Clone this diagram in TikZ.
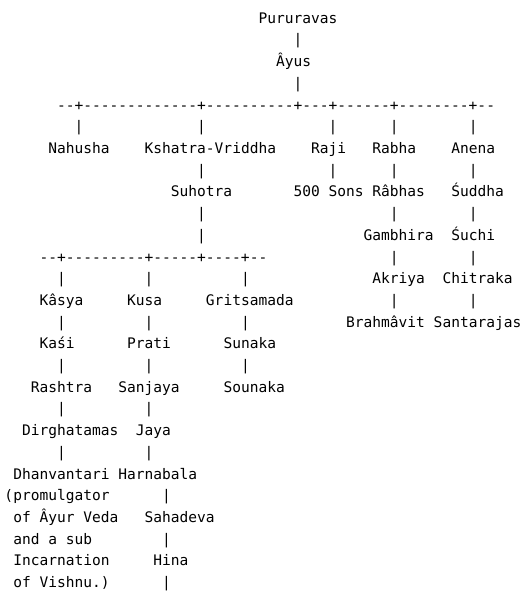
\documentclass[tikz,border=0pt]{standalone}
\usepackage{fontspec}
\setmonofont{DejaVu Sans Mono}
\tikzset{
  txt/.style={inner sep=0pt, outer sep=0pt, anchor=base west, font=\ttfamily\fontsize{14.55pt}{21.7pt}\selectfont, text=black},
}
% \T{name}{col}{row}{text}
\newcommand\T[4]{\node[txt] (#1) at ({4.5+#2*8.76},{-23.3-#3*21.7}) {#4};}
\begin{document}
\begin{tikzpicture}[x=1pt,y=1pt]
\useasboundingbox (0,0) rectangle (523,-594);
\T{pururavas}{29}{0}{Pururavas}
\T{b1}{33}{1}{|}
\T{ayus}{31}{2}{Âyus}
\T{b3}{33}{3}{|}
\T{dash1}{6}{4}{--+-------------+----------+---+------+--------+--}
\T{b5a}{8}{5}{|}\T{b5b}{22}{5}{|}\T{b5c}{37}{5}{|}\T{b5d}{44}{5}{|}\T{b5e}{53}{5}{|}
\T{nahusha}{5}{6}{Nahusha}
\T{kshatra}{16}{6}{Kshatra-Vriddha}
\T{raji}{35}{6}{Raji}
\T{rabha}{42}{6}{Rabha}
\T{anena}{51}{6}{Anena}
\T{b7b}{22}{7}{|}\T{b7c}{37}{7}{|}\T{b7d}{44}{7}{|}\T{b7e}{53}{7}{|}
\T{suhotra}{19}{8}{Suhotra}
\T{sons}{33}{8}{500 Sons}
\T{rabhas}{42}{8}{Râbhas}
\T{suddha}{51}{8}{Śuddha}
\T{b9b}{22}{9}{|}\T{b9d}{44}{9}{|}\T{b9e}{53}{9}{|}
\T{b10b}{22}{10}{|}
\T{gambhira}{41}{10}{Gambhira}
\T{suchi}{51}{10}{Śuchi}
\T{dash2}{4}{11}{--+---------+-----+----+--}
\T{b11d}{44}{11}{|}\T{b11e}{53}{11}{|}
\T{b12a}{6}{12}{|}\T{b12b}{16}{12}{|}\T{b12c}{27}{12}{|}
\T{akriya}{42}{12}{Akriya}
\T{chitraka}{50}{12}{Chitraka}
\T{kasya}{4}{13}{Kâsya}
\T{kusa}{14}{13}{Kusa}
\T{gritsamada}{23}{13}{Gritsamada}
\T{b13d}{44}{13}{|}\T{b13e}{53}{13}{|}
\T{b14a}{6}{14}{|}\T{b14b}{16}{14}{|}\T{b14c}{27}{14}{|}
\T{brahmavit}{39}{14}{Brahmâvit}
\T{santarajas}{49}{14}{Santarajas}
\T{kasi}{4}{15}{Kaśi}
\T{prati}{14}{15}{Prati}
\T{sunaka}{25}{15}{Sunaka}
\T{b16a}{6}{16}{|}\T{b16b}{16}{16}{|}\T{b16c}{27}{16}{|}
\T{rashtra}{3}{17}{Rashtra}
\T{sanjaya}{13}{17}{Sanjaya}
\T{sounaka}{25}{17}{Sounaka}
\T{b18a}{6}{18}{|}\T{b18b}{16}{18}{|}
\T{dirghatamas}{2}{19}{Dirghatamas}
\T{jaya}{15}{19}{Jaya}
\T{b20a}{6}{20}{|}\T{b20b}{16}{20}{|}
\T{dhanvantari}{1}{21}{Dhanvantari}
\T{harnabala}{13}{21}{Harnabala}
\T{note1}{0}{22}{(promulgator}
\T{b22b}{18}{22}{|}
\T{note2}{1}{23}{of Âyur Veda}
\T{sahadeva}{16}{23}{Sahadeva}
\T{note3}{1}{24}{and a sub}
\T{b24b}{18}{24}{|}
\T{note4}{1}{25}{Incarnation}
\T{hina}{17}{25}{Hina}
\T{note5}{1}{26}{of Vishnu.)}
\T{b26b}{18}{26}{|}
\end{tikzpicture}
\end{document}
